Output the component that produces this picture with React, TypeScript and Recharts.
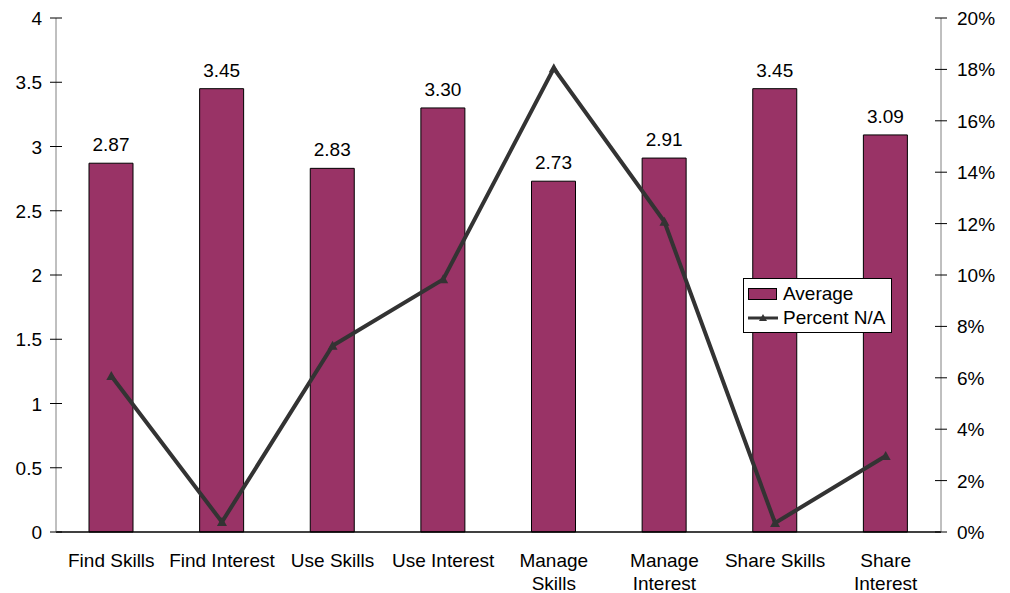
import { ComposedChart, Bar, Line, XAxis, YAxis, Legend, LabelList } from 'recharts'

const categories = [
  'Find Skills',
  'Find Interest',
  'Use Skills',
  'Use Interest',
  'Manage\nSkills',
  'Manage\nInterest',
  'Share Skills',
  'Share\nInterest',
]
const averages = [2.87, 3.45, 2.83, 3.3, 2.73, 2.91, 3.45, 3.09]
const percentNA = [6.07, 0.39, 7.25, 9.83, 18.04, 12.07, 0.35, 2.96]
const leftTicks = [0, 0.5, 1, 1.5, 2, 2.5, 3, 3.5, 4]
const rightTicks = [0, 2, 4, 6, 8, 10, 12, 14, 16, 18, 20]

const data = categories.map((name, i) => ({
  name,
  average: averages[i],
  pct: percentNA[i],
}))

const FONT = '"Liberation Sans", Arial, sans-serif'
const BAR = '#993366'
const LINE = '#333333'

function LeftTick(props: any) {
  const { x, y, payload } = props
  const axisX = x + 14
  return (
    <g>
      <line x1={axisX} x2={axisX + 6} y1={y} y2={y} stroke="#000" />
      <text x={x} y={y} dy={7} textAnchor="end" fontSize={19} fontFamily={FONT} fill="#000">
        {payload.value}
      </text>
    </g>
  )
}

function RightTick(props: any) {
  const { x, y, payload } = props
  const axisX = x - 16
  return (
    <g>
      <line x1={axisX - 6} x2={axisX} y1={y} y2={y} stroke="#000" />
      <text x={x} y={y} dy={7} textAnchor="start" fontSize={19} fontFamily={FONT} fill="#000">
        {payload.value}%
      </text>
    </g>
  )
}

function CatTick(props: any) {
  const { x, y, payload } = props
  const lines = String(payload.value).split('\n')
  return (
    <text x={x} y={y} textAnchor="middle" fontSize={19} fontFamily={FONT} fill="#000">
      {lines.map((l, i) => (
        <tspan key={i} x={x} dy={i === 0 ? 27 : 23}>
          {l}
        </tspan>
      ))}
    </text>
  )
}

function Triangle(props: any) {
  const { cx, cy } = props
  if (cx == null || cy == null) return null
  return <path d={`M${cx},${cy - 5} L${cx + 5},${cy + 4} L${cx - 5},${cy + 4} Z`} fill={LINE} />
}

function BarLabel(props: any) {
  const { x, y, width, value } = props
  return (
    <text x={x + width / 2} y={y - 12} textAnchor="middle" fontSize={19} fontFamily={FONT} fill="#000">
      {Number(value).toFixed(2)}
    </text>
  )
}

function LegendBox() {
  return (
    <div
      style={{
        border: '1px solid #000',
        background: '#fff',
        width: 149,
        height: 55,
        boxSizing: 'border-box',
        fontFamily: FONT,
        fontSize: 19,
        padding: '3px 0 0 4px',
        lineHeight: '24px',
      }}
    >
      <div style={{ display: 'flex', alignItems: 'center' }}>
        <span style={{ display: 'inline-block', width: 27, height: 10, background: BAR, border: '1px solid #000', marginRight: 6 }} />
        Average
      </div>
      <div style={{ display: 'flex', alignItems: 'center' }}>
        <svg width={30} height={10} style={{ marginRight: 5 }}>
          <line x1={0} x2={30} y1={5} y2={5} stroke={LINE} strokeWidth={3} />
          <path d="M15,1 L19,8 L11,8 Z" fill={LINE} />
        </svg>
        Percent N/A
      </div>
    </div>
  )
}

export default function App() {
  return (
    <div style={{ position: 'absolute', left: 0, top: 0, background: '#fff' }}>
      <ComposedChart
        width={1010}
        height={593}
        data={data}
        margin={{ top: 18, right: 0, bottom: 0, left: 0 }}
        barCategoryGap="20%"
      >
        <XAxis
          dataKey="name"
          xAxisId="x"
          interval={0}
          tick={<CatTick />}
          tickLine={false}
          axisLine={{ stroke: '#000', strokeWidth: 1.5 }}
          height={61}
        />
        <YAxis
          yAxisId="left"
          orientation="left"
          domain={[0, 4]}
          ticks={leftTicks}
          width={56}
          tickSize={6}
          tickMargin={8}
          tick={<LeftTick />}
          tickLine={{ stroke: '#000' }}
          axisLine={{ stroke: '#808080' }}
        />
        <YAxis
          yAxisId="right"
          orientation="right"
          domain={[0, 20]}
          ticks={rightTicks}
          width={69}
          tickSize={6}
          tickMargin={10}
          tick={<RightTick />}
          tickLine={{ stroke: '#000' }}
          axisLine={{ stroke: '#808080' }}
        />
        <Legend
          layout="horizontal"
          verticalAlign="middle"
          align="center"
          content={<LegendBox />}
          wrapperStyle={{ position: 'absolute', left: 743, top: 278, width: 149, height: 55 }}
        />
        <Bar
          dataKey="average"
          name="Average"
          xAxisId="x"
          yAxisId="left"
          fill={BAR}
          stroke="#000"
          strokeWidth={1}
          barSize={44}
          isAnimationActive={false}
        >
          <LabelList dataKey="average" content={<BarLabel />} />
        </Bar>
        <Line
          dataKey="pct"
          name="Percent N/A"
          xAxisId="x"
          yAxisId="right"
          stroke={LINE}
          strokeWidth={4}
          dot={<Triangle />}
          activeDot={false}
          type="linear"
          isAnimationActive={false}
        />
      </ComposedChart>
    </div>
  )
}
